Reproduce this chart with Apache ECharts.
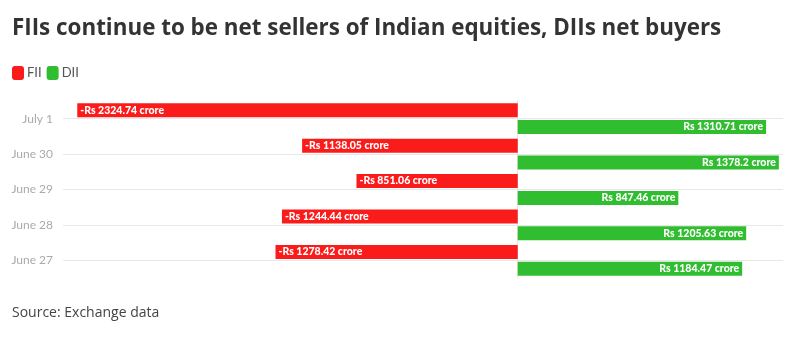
<!DOCTYPE html>
<html>
<head>
<meta charset="utf-8">
<script src="https://cdn.jsdelivr.net/npm/echarts@6/dist/echarts.min.js"></script>
<style>
html,body{margin:0;padding:0;background:#fff;}
#chart{width:796px;height:361px;}
</style>
</head>
<body>
<div id="chart"></div>
<script>
const categories = ['July 1', 'June 30', 'June 29', 'June 28', 'June 27'];
const fiiValues = [-2324.74, -1138.05, -851.06, -1244.44, -1278.42];
const diiValues = [1310.71, 1378.2, 847.46, 1205.63, 1184.47];
const seriesNames = ['FII', 'DII'];

const RED = '#fa1b1b';
const GREEN = '#30bd30';
const FONT = 'Lato';

function fmt(v) {
  return (v < 0 ? '-Rs ' : 'Rs ') + Math.abs(v) + ' crore';
}

const chart = echarts.init(document.getElementById('chart'), null, {renderer: 'canvas'});
chart.setOption({
  animation: false,
  backgroundColor: '#ffffff',
  title: {
    text: 'FIIs continue to be net sellers of Indian equities, DIIs net buyers',
    left: 7, top: 13,
    textStyle: {fontFamily: 'Open Sans', fontWeight: 'bold', fontSize: 22.4, color: '#333333'}
  },
  graphic: [{
    type: 'text', left: 12, top: 306,
    style: {text: 'Source: Exchange data', fontFamily: 'Open Sans', fontSize: 14, fill: '#444444'}
  }],
  legend: {
    left: 7, top: 61,
    itemWidth: 12, itemHeight: 14, itemGap: 5,
    icon: 'roundRect',
    textStyle: {fontFamily: FONT, fontSize: 13, color: '#555555', padding: [0, 0, 0, -2]},
    data: seriesNames
  },
  grid: {left: 63, right: 13, top: 101, height: 177, containLabel: false},
  xAxis: {
    type: 'value', min: -2400, max: 1400,
    axisLine: {show: false}, axisTick: {show: false}, axisLabel: {show: false},
    splitLine: {show: false}
  },
  yAxis: {
    type: 'category', data: categories, inverse: true,
    axisLine: {show: true, lineStyle: {color: '#e4e4e4'}},
    axisTick: {show: true, alignWithLabel: true, length: 7, lineStyle: {color: '#e4e4e4'}},
    axisLabel: {fontFamily: FONT, fontSize: 12, color: '#aaaaaa', margin: 10},
    splitLine: {show: false}
  },
  series: [
    {
      name: seriesNames[0], type: 'bar', data: fiiValues,
      itemStyle: {color: RED},
      barWidth: 14, barGap: '20%',
      label: {show: true, position: 'insideLeft', formatter: p => fmt(p.value),
        fontFamily: FONT, fontWeight: 900, fontSize: 10.5, color: '#fff', distance: 3},
      z: 3
    },
    {
      name: seriesNames[1], type: 'bar', data: diiValues,
      itemStyle: {color: GREEN},
      barWidth: 14, barGap: '20%',
      label: {show: true, position: 'insideRight', formatter: p => fmt(p.value),
        fontFamily: FONT, fontWeight: 900, fontSize: 10.5, color: '#fff', distance: 3},
      z: 3
    },
    {
      name: 'grid', type: 'line', data: [], z: 1,
      markLine: {
        silent: true, symbol: 'none', label: {show: false},
        lineStyle: {color: '#e8e8e8', type: 'solid', width: 1},
        data: categories.map(c => ({yAxis: c}))
      }
    }
  ]
});
</script>
</body>
</html>
